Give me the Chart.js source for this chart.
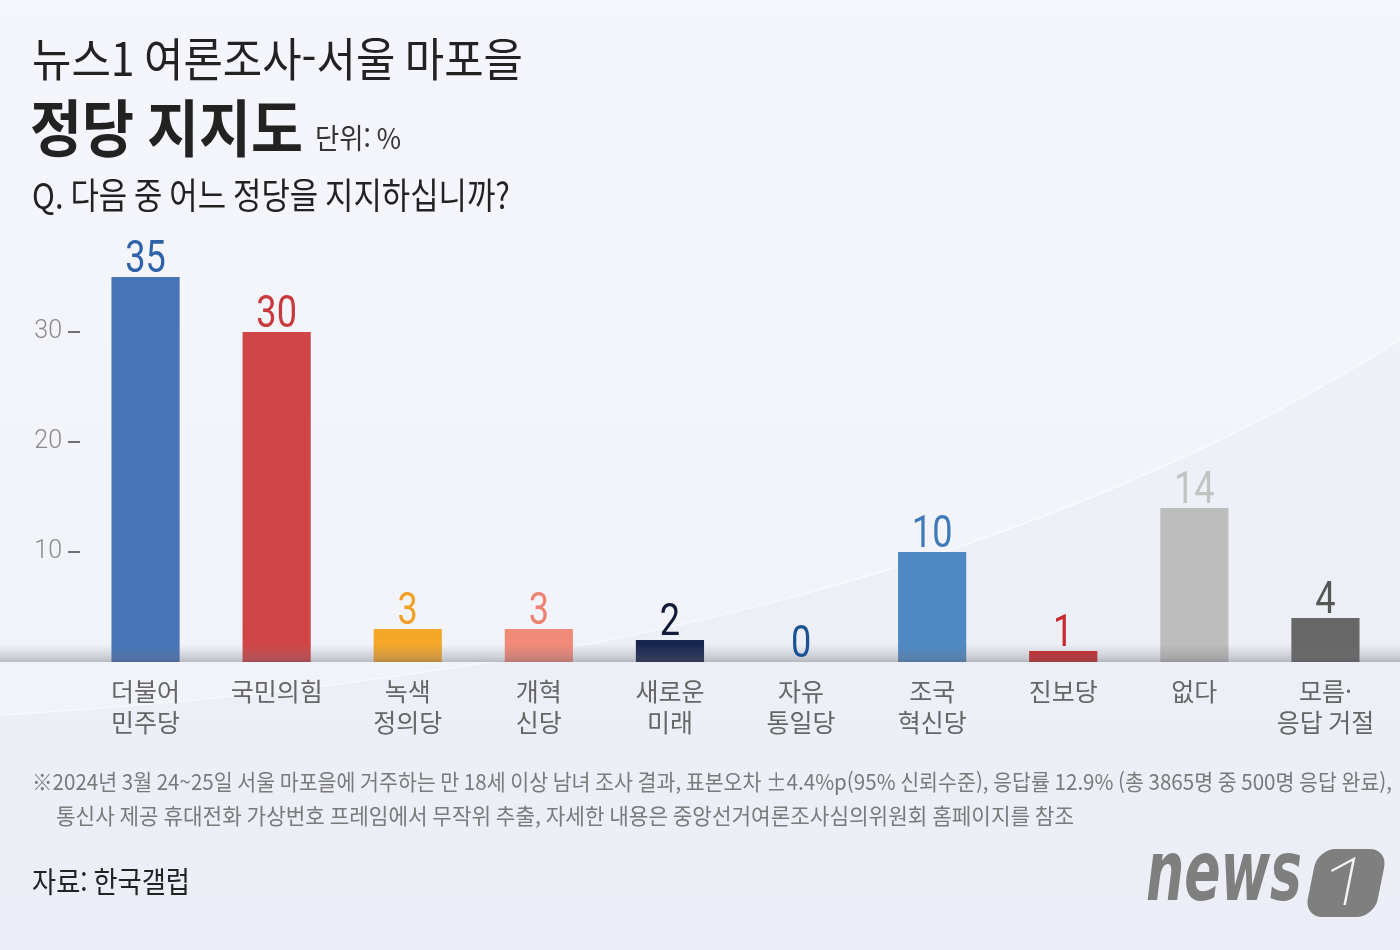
<!DOCTYPE html>
<html lang="ko">
  <head>
    <meta charset="UTF-8" />
    <title>정당 지지도 - 서울 마포을</title>
    <script src="https://cdn.jsdelivr.net/npm/chart.js"></script>
    <style>
      body {
        margin: 0;
        background: #f4f6fb;
      }
      .wrap {
        width: 1400px;
        height: 950px;
        position: relative;
      }
    </style>
  </head>
  <body>
    <div class="wrap">
      <canvas id="myChart" width="1400" height="950"></canvas>
    </div>

    <script>
      const categories = [
        ["더불어", "민주당"],
        ["국민의힘"],
        ["녹색", "정의당"],
        ["개혁", "신당"],
        ["새로운", "미래"],
        ["자유", "통일당"],
        ["조국", "혁신당"],
        ["진보당"],
        ["없다"],
        ["모름·", "응답 거절"],
      ];
      const values = [35, 30, 3, 3, 2, 0, 10, 1, 14, 4];
      const barColors = [
        "#4574b9", "#d14547", "#f5a72a", "#f28a78", "#17264f",
        "#1d5597", "#4f89c3", "#c8292d", "#bdbdbd", "#676767",
      ];
      const valueColors = [
        "#2f62a9", "#c93a3d", "#f0a126", "#ee8272", "#111a36",
        "#1c5294", "#3f7ab9", "#c62a2e", "#c2c2c2", "#575757",
      ];
      const yTicks = [10, 20, 30];

      const KR = "'Noto Sans CJK KR', 'Noto Sans', sans-serif";
      Chart.defaults.font.family = KR;

      // 배경, 제목, 각주, 로고
      const backdrop = {
        id: "backdrop",
        beforeDraw(chart) {
          const c = chart.ctx;
          const W = chart.width, H = chart.height;
          c.save();
          const bg = c.createLinearGradient(0, 0, 0, H);
          bg.addColorStop(0, "#f5f6fb");
          bg.addColorStop(1, "#eff2f8");
          c.fillStyle = bg;
          c.fillRect(0, 0, W, H);

          // 은은한 곡선 영역
          c.beginPath();
          c.moveTo(0, 715);
          c.bezierCurveTo(600, 680, 1050, 560, 1400, 340);
          c.lineTo(1400, H);
          c.lineTo(0, H);
          c.closePath();
          c.fillStyle = "rgba(205,215,235,0.13)";
          c.fill();
          c.beginPath();
          c.moveTo(0, 715);
          c.bezierCurveTo(600, 680, 1050, 560, 1400, 340);
          c.strokeStyle = "rgba(255,255,255,0.55)";
          c.lineWidth = 1.5;
          c.stroke();

          c.textBaseline = "middle";
          c.textAlign = "left";
          c.fillStyle = "#222";
          c.font = "400 46px " + KR;
          c.fillText("뉴스1 여론조사-서울 마포을", 32, 59, 491);
          c.font = "700 62px " + KR;
          c.fillText("정당 지지도", 30, 128, 273);
          c.fillStyle = "#333";
          c.font = "400 28px " + KR;
          c.fillText("단위: %", 315, 138, 86);
          c.fillStyle = "#222";
          c.font = "400 36px " + KR;
          c.fillText("Q. 다음 중 어느 정당을 지지하십니까?", 32, 195, 478);

          c.fillStyle = "#7a7a7a";
          c.font = "400 22px " + KR;
          c.fillText(
            "※2024년 3월 24~25일 서울 마포을에 거주하는 만 18세 이상 남녀 조사 결과, 표본오차 ±4.4%p(95% 신뢰수준), 응답률 12.9% (총 3865명 중 500명 응답 완료),",
            32, 782, 1360
          );
          c.fillText(
            "통신사 제공 휴대전화 가상번호 프레임에서 무작위 추출, 자세한 내용은 중앙선거여론조사심의위원회 홈페이지를 참조",
            56, 816, 1018
          );
          c.fillStyle = "#222";
          c.font = "400 29px " + KR;
          c.fillText("자료: 한국갤럽", 32, 882, 158);

          // news1 로고
          c.fillStyle = "#7f7f7f";
          c.font = "italic 900 84px 'DejaVu Sans', sans-serif";
          c.textBaseline = "alphabetic";
          c.fillText("news", 1146, 900, 156);
          c.translate(1345, 883);
          c.transform(1, 0, -0.2, 1, 0, 0);
          c.beginPath();
          c.roundRect(-34, -34, 70, 68, 18);
          c.fill();
          c.strokeStyle = "#f2f4f8";
          c.lineWidth = 2.5;
          c.beginPath();
          c.moveTo(-16, -12);
          c.lineTo(4, -24);
          c.lineTo(4, 22);
          c.stroke();
          c.restore();
        },
      };

      // 막대 위 값 + 바닥 그림자 띠
      const valueLabels = {
        id: "valueLabels",
        afterDatasetsDraw(chart) {
          const c = chart.ctx;
          const area = chart.chartArea;
          c.save();
          const band = c.createLinearGradient(0, area.bottom - 18, 0, area.bottom);
          band.addColorStop(0, "rgba(120,120,130,0)");
          band.addColorStop(0.75, "rgba(110,110,120,0.28)");
          band.addColorStop(1, "rgba(90,90,100,0.38)");
          c.fillStyle = band;
          c.fillRect(0, area.bottom - 18, chart.width, 18);

          const meta = chart.getDatasetMeta(0);
          c.textAlign = "center";
          c.textBaseline = "alphabetic";
          c.font = "400 44px Roboto, 'DejaVu Sans', sans-serif";
          meta.data.forEach((bar, i) => {
            c.save();
            c.translate(bar.x, bar.y - 5);
            c.scale(0.82, 1);
            c.fillStyle = valueColors[i];
            c.fillText(String(values[i]), 0, 0);
            c.restore();
          });
          c.restore();
        },
      };

      new Chart(document.getElementById("myChart"), {
        type: "bar",
        data: {
          labels: categories,
          datasets: [
            {
              data: values,
              backgroundColor: barColors,
              borderWidth: 0,
              barPercentage: 0.52,
              categoryPercentage: 1,
            },
          ],
        },
        options: {
          responsive: false,
          animation: false,
          layout: { padding: { top: 222, right: 9, left: 0, bottom: 0 } },
          plugins: {
            legend: { display: false },
            tooltip: { enabled: false },
          },
          scales: {
            x: {
              grid: { display: false, drawTicks: false },
              border: { display: false },
              afterFit: (scale) => {
                scale.height = 288;
              },
              ticks: {
                color: "#666",
                padding: 14,
                maxRotation: 0,
                autoSkip: false,
                font: { size: 25, lineHeight: 1.24 },
              },
            },
            y: {
              min: 0,
              max: 40,
              afterBuildTicks: (scale) => {
                scale.ticks = yTicks.map((v) => ({ value: v }));
              },
              afterFit: (scale) => {
                scale.width = 80;
              },
              grid: {
                drawOnChartArea: false,
                drawTicks: true,
                tickLength: 12,
                color: "#707070",
                lineWidth: 2,
              },
              border: { display: false },
              ticks: {
                color: "#8a8a8a",
                padding: 6,
                font: { family: "Roboto, sans-serif", size: 25, weight: 300 },
              },
            },
          },
        },
        plugins: [backdrop, valueLabels],
      });
    </script>
  </body>
</html>
